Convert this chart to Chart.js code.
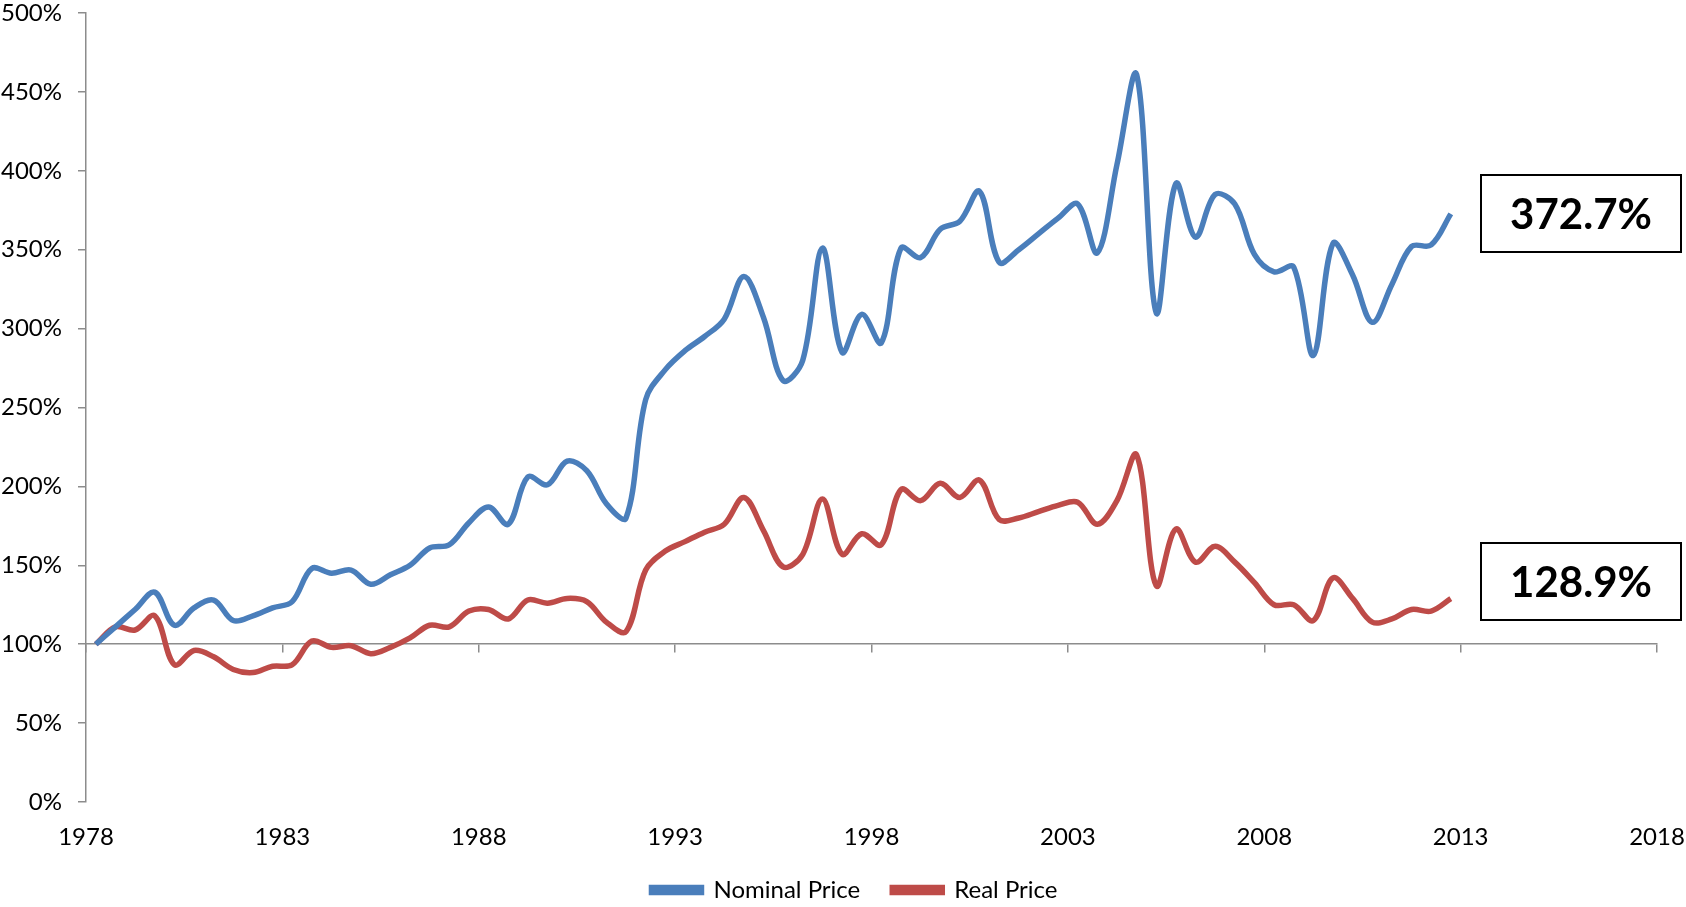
<!DOCTYPE html>
<html>
<head>
<meta charset="utf-8">
<script src="https://cdn.jsdelivr.net/npm/chart.js@4.4.1/dist/chart.umd.min.js"></script>
<style>
  html, body { margin: 0; padding: 0; background: #fff; }
  #wrap { width: 1686px; height: 907px; position: relative; }
</style>
</head>
<body>
<div id="wrap"><canvas id="c" width="1686" height="907"></canvas></div>
<script>
// ---- DATA ----
const periods = [
  1978.25, 1978.75, 1979.25, 1979.75, 1980.25, 1980.75, 1981.25, 1981.75, 1982.25, 1982.75,
  1983.25, 1983.75, 1984.25, 1984.75, 1985.25, 1985.75, 1986.25, 1986.75, 1987.25, 1987.75,
  1988.25, 1988.75, 1989.25, 1989.75, 1990.25, 1990.75, 1991.25, 1991.75, 1992.25, 1992.75,
  1993.25, 1993.75, 1994.25, 1994.75, 1995.25, 1995.75, 1996.25, 1996.75, 1997.25, 1997.75,
  1998.25, 1998.75, 1999.25, 1999.75, 2000.25, 2000.75, 2001.25, 2001.75, 2002.25, 2002.75,
  2003.25, 2003.75, 2004.25, 2004.75, 2005.25, 2005.75, 2006.25, 2006.75, 2007.25, 2007.75,
  2008.25, 2008.75, 2009.25, 2009.75, 2010.25, 2010.75, 2011.25, 2011.75, 2012.25, 2012.75
];
const nominalPrice = [
  100, 111, 122, 133, 112, 123, 128, 115, 118, 123,
  127, 148, 145, 147, 138, 144, 150, 161, 163, 177,
  187, 176, 206, 201, 216, 210, 189, 180, 255, 274,
  286, 295, 306, 333, 307, 267, 280, 351, 285, 309,
  291, 351, 345, 363, 368, 387, 342, 350, 360, 370,
  379, 348, 404, 461, 310, 392, 358, 385, 379, 347,
  336, 339, 283, 354, 334, 304, 328, 352, 353, 372.7
];
const realPrice = [
  100, 111, 109, 118, 87, 96, 92, 84, 82, 86,
  87, 102, 98, 99, 94, 98, 104, 112, 111, 121,
  122, 116, 128, 126, 129, 127, 114, 108, 147, 159,
  165, 171, 176, 193, 172, 149, 157, 192, 157, 170,
  163, 198, 191, 202, 193, 204, 179, 180, 184, 188,
  190, 176, 191, 220, 137, 173, 152, 162, 152, 139,
  125, 125, 115, 142, 129, 114, 116, 122, 121, 128.9
];
const seriesNames = ['Nominal Price', 'Real Price'];
const xTickMin = 1978, xTickMax = 2018, xTickStep = 5;
const yTickMin = 0, yTickMax = 500, yTickStep = 50;

// ---- CHART ----
const BLUE = '#4A7EBB';
const RED = '#BE4B48';
const AXIS = '#8C8C8C';
const FONT = 'Lato';
const FS = 24;
const LEGEND_SHIFT = 26;

const toPts = vals => periods.map((p, i) => ({ x: p, y: vals[i] }));

// shift the legend block so it is centred under the plot like the original
const legendShiftPlugin = {
  id: 'legendShift',
  afterLayout(chart) {
    if (chart.legend) {
      chart.legend.left += LEGEND_SHIFT;
      chart.legend.right += LEGEND_SHIFT;
    }
  }
};

const calloutPlugin = {
  id: 'callouts',
  afterDraw(chart) {
    const ctx = chart.ctx;
    const boxes = [
      { text: nominalPrice[nominalPrice.length - 1].toFixed(1) + '%', x: 1481, y: 175, w: 200, h: 77 },
      { text: realPrice[realPrice.length - 1].toFixed(1) + '%', x: 1481, y: 543, w: 200, h: 77 }
    ];
    ctx.save();
    boxes.forEach(b => {
      ctx.fillStyle = '#fff';
      ctx.fillRect(b.x, b.y, b.w, b.h);
      ctx.strokeStyle = '#000';
      ctx.lineWidth = 2;
      ctx.strokeRect(b.x, b.y, b.w, b.h);
      ctx.fillStyle = '#000';
      ctx.font = 'bold 42px ' + FONT;
      ctx.textAlign = 'center';
      ctx.textBaseline = 'middle';
      ctx.fillText(b.text, b.x + b.w / 2, b.y + b.h / 2 + 2);
    });
    ctx.restore();
  }
};

new Chart(document.getElementById('c'), {
  type: 'line',
  data: {
    datasets: [
      { label: seriesNames[0], data: toPts(nominalPrice), borderColor: BLUE, backgroundColor: BLUE,
        borderWidth: 5.5, pointRadius: 0, tension: 0.35, fill: false, xAxisID: 'x', yAxisID: 'y' },
      { label: seriesNames[1], data: toPts(realPrice), borderColor: RED, backgroundColor: RED,
        borderWidth: 5.5, pointRadius: 0, tension: 0.35, fill: false, xAxisID: 'x', yAxisID: 'y' }
    ]
  },
  options: {
    responsive: false,
    animation: false,
    layout: { padding: { left: 0, right: 29, top: 13, bottom: 0 } },
    scales: {
      x: {
        type: 'linear', position: 'bottom', min: xTickMin, max: xTickMax,
        border: { display: false },
        grid: { display: false, drawTicks: false },
        ticks: { stepSize: xTickStep, color: '#000', padding: 21, font: { family: FONT, size: FS },
          callback: v => String(v), maxRotation: 0, autoSkip: false },
        afterFit: s => { s.height = 44; s.paddingLeft = 0; s.paddingRight = 0; }
      },
      xAxis100: {
        type: 'linear', axis: 'x', position: { y: 100 }, min: xTickMin, max: xTickMax,
        border: { display: true, color: AXIS, width: 1.5 },
        grid: { display: true, drawOnChartArea: false, drawTicks: true, tickLength: 8, color: AXIS, lineWidth: 1.5 },
        ticks: { stepSize: xTickStep, display: false },
        afterFit: s => { s.paddingLeft = 0; s.paddingRight = 0; }
      },
      y: {
        type: 'linear', min: yTickMin, max: yTickMax,
        border: { display: true, color: AXIS, width: 1.5 },
        grid: { display: true, drawOnChartArea: false, drawTicks: true, tickLength: 8, color: AXIS, lineWidth: 1.5 },
        ticks: { stepSize: yTickStep, color: '#000', padding: 16, font: { family: FONT, size: FS },
          callback: v => v + '%' },
        afterFit: s => { s.width = 86; s.paddingTop = 0; s.paddingBottom = 0; }
      }
    },
    plugins: {
      legend: {
        position: 'bottom',
        maxHeight: 61,
        labels: { color: '#000', font: { family: FONT, size: FS }, boxWidth: 50, boxHeight: 5, padding: 32 }
      },
      tooltip: { enabled: false }
    }
  },
  plugins: [legendShiftPlugin, calloutPlugin]
});
</script>
</body>
</html>
